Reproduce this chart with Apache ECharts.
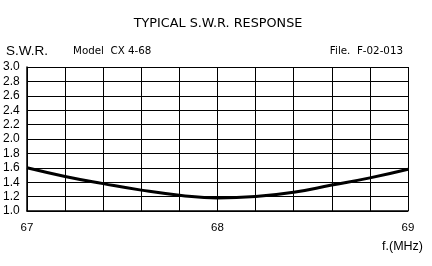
<!DOCTYPE html>
<html><head><meta charset="utf-8">
<script src="https://cdn.jsdelivr.net/npm/echarts@6/dist/echarts.min.js"></script>
<style>html,body{margin:0;padding:0;background:#fff}#c{width:432px;height:266px}</style>
</head><body><div id="c"></div>
<script>
const freqs = [67.0, 67.2, 67.4, 67.6, 67.8, 68.0, 68.2, 68.4, 68.6, 68.8, 69.0];
const swr   = [1.60, 1.48, 1.38, 1.29, 1.22, 1.18, 1.20, 1.26, 1.36, 1.46, 1.58];
const titleText = 'TYPICAL S.W.R. RESPONSE';
const yName = 'S.W.R.';
const modelText = 'Model  CX 4-68';
const fileText = 'File.  F-02-013';
const xName = 'f.(MHz)';

const chart = echarts.init(document.getElementById('c'));
const F = 'Liberation Sans';
const D = 'DejaVu Sans';
chart.setOption({
  animation: false,
  backgroundColor: '#fff',
  title: [
    {text: titleText, left: 213, top: 12, textAlign: 'center',
     textStyle: {fontFamily: D, fontSize: 12.8, fontWeight: 'normal', color: '#000'}},
    {text: yName, left: 1, top: 39, textStyle: {fontFamily: F, fontSize: 13.5, fontWeight: 'normal', color: '#000'}},
    {text: modelText, left: 68, top: 41, textStyle: {fontFamily: D, fontSize: 10.3, fontWeight: 'normal', color: '#000'}},
    {text: fileText, right: 24, top: 41, textStyle: {fontFamily: D, fontSize: 10.3, fontWeight: 'normal', color: '#000'}},
    {text: xName, right: 4, top: 235, textStyle: {fontFamily: F, fontSize: 12.5, fontWeight: 'normal', color: '#000'}}
  ],
  grid: {left: 26, right: 24, top: 67, bottom: 55},
  xAxis: {
    type: 'value', min: 67, max: 69, interval: 0.2,
    axisLine: {show: true, lineStyle: {color: '#000', width: 1.5}},
    axisTick: {show: false},
    splitLine: {show: true, lineStyle: {color: '#000', width: 1}},
    axisLabel: {
      margin: 11, fontFamily: F, fontSize: 11.5, color: '#000',
      formatter: v => Math.abs(v - Math.round(v)) < 1e-6 ? String(Math.round(v)) : ''
    }
  },
  yAxis: {
    type: 'value', min: 1.0, max: 3.0, interval: 0.2,
    axisLine: {show: true, lineStyle: {color: '#000', width: 1.5}},
    axisTick: {show: false},
    splitLine: {show: true, lineStyle: {color: '#000', width: 1}},
    axisLabel: {
      margin: 24, align: 'left', fontFamily: F, fontSize: 12, color: '#000',
      formatter: v => v.toFixed(1)
    }
  },
  series: [{
    type: 'line', smooth: true, showSymbol: false,
    data: freqs.map((f, i) => [f, swr[i]]),
    lineStyle: {color: '#000', width: 3}
  }]
});
</script></body></html>
